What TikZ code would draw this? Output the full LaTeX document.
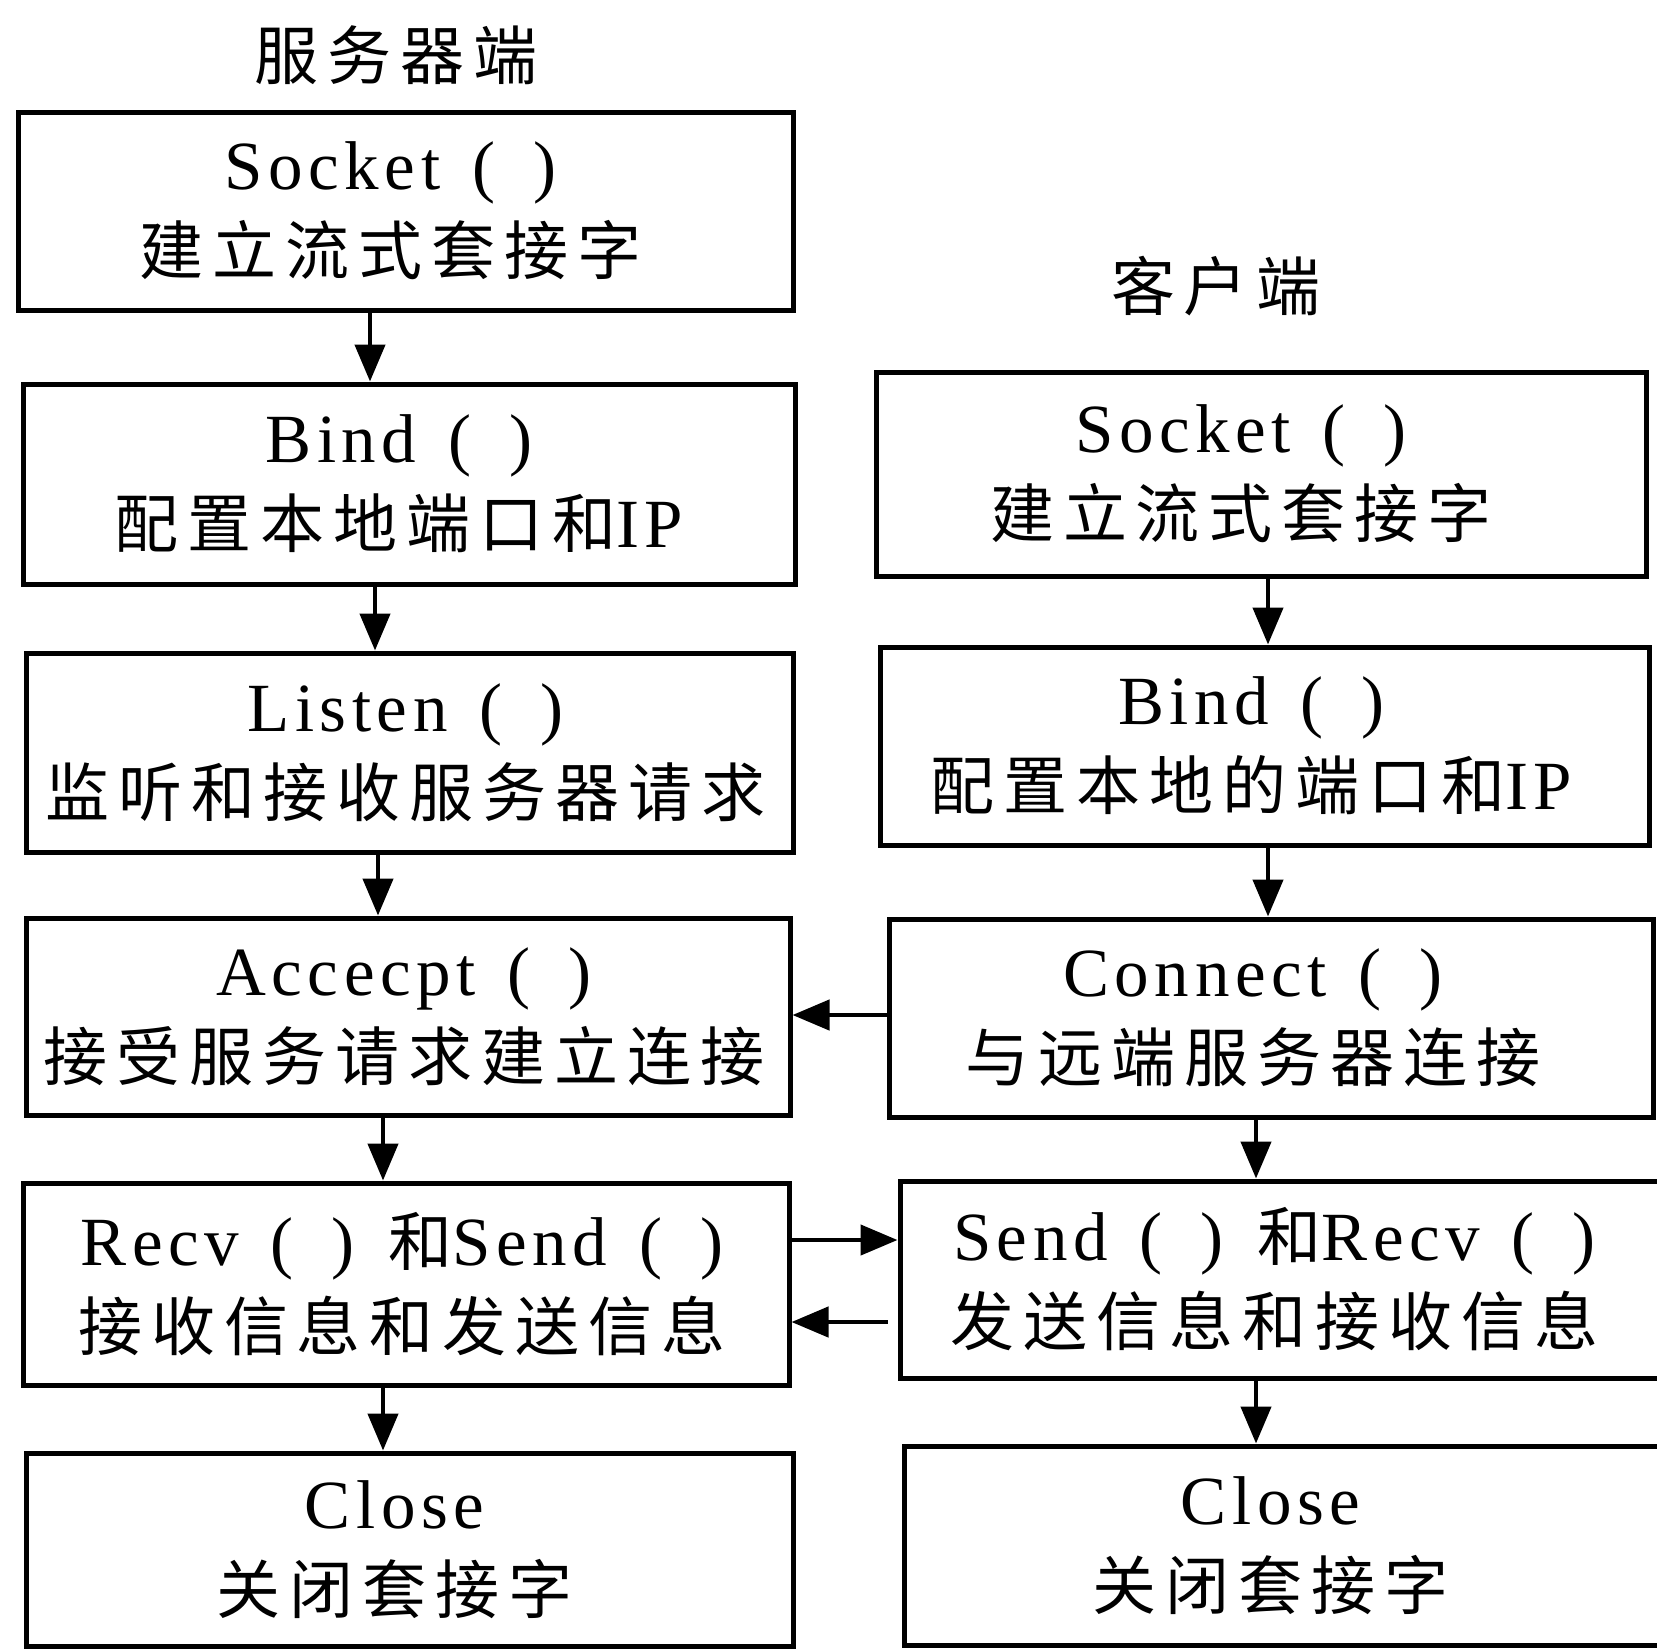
\documentclass[tikz,border=0pt]{standalone}
\usepackage{fontspec}
\setmainfont{Liberation Serif}[LetterSpace=8]
\newfontfamily\cjk{Noto Sans CJK SC}[LetterSpace=14]
\usetikzlibrary{arrows.meta}
\newcommand\pp{\hspace{32pt}(\hspace{38pt})}
\newcommand\zh[1]{{\cjk\fontsize{64}{85}\selectfont #1}}
\tikzset{
  box/.style={draw, line width=5pt, inner sep=0pt},
  txt/.style={inner sep=0pt, align=center, font=\fontsize{69}{85}\selectfont},
  arr/.style={line width=4.5pt, -{Triangle[length=37pt,width=30pt]}},
  ttl/.style={inner sep=0pt, font=\fontsize{64}{70}\selectfont\cjk},
}
\begin{document}
\begin{tikzpicture}[x=1pt,y=-1pt]
\useasboundingbox (0,0) rectangle (1657,1650);
% titles
\node[ttl] (t1) at (396,55) {服务器端};
\node[ttl] (t2) at (1216,286) {客户端};
% server boxes
\node[box, minimum width=775pt, minimum height=198pt] (l1) at (405.5,211) {};
\node[box, minimum width=772pt, minimum height=200pt] (l2) at (409,484) {};
\node[box, minimum width=767pt, minimum height=199pt] (l3) at (409.5,752.5) {};
\node[box, minimum width=764pt, minimum height=197pt] (l4) at (408,1016.5) {};
\node[box, minimum width=766pt, minimum height=202pt] (l5) at (406,1284) {};
\node[box, minimum width=767pt, minimum height=193pt] (l6) at (409.5,1549.5) {};
\node[txt] (l1t) at ([xshift=-15pt]l1.center) {Socket\pp\\\zh{建立流式套接字}};
\node[txt] (l2t) at ([xshift=-10pt]l2.center) {Bind\pp\\\zh{配置本地端口和}IP};
\node[txt] (l3t) at ([xshift=-4pt]l3.center) {Listen\pp\\\zh{监听和接收服务器请求}};
\node[txt] (l4t) at ([xshift=-4pt]l4.center) {Accecpt\pp\\\zh{接受服务请求建立连接}};
\node[txt] (l5t) at ([xshift=-4pt]l5.center) {Recv\pp\hspace{34pt}\zh{和}Send\pp\\\zh{接收信息和发送信息}};
\node[txt] (l6t) at ([xshift=-15pt]l6.center) {Close\\\zh{关闭套接字}};
% client boxes
\node[box, minimum width=770pt, minimum height=204pt] (r1) at (1261,474) {};
\node[box, minimum width=769pt, minimum height=198pt] (r2) at (1264.5,746) {};
\node[box, minimum width=764pt, minimum height=198pt] (r3) at (1271,1018) {};
\node[box, minimum width=765pt, minimum height=197pt] (r4) at (1282.5,1279.5) {};
\node[box, minimum width=761pt, minimum height=199pt] (r5) at (1284.5,1545.5) {};
\node[txt] (r1t) at ([xshift=-20pt]r1.center) {Socket\pp\\\zh{建立流式套接字}};
\node[txt] (r2t) at ([xshift=-13pt]r2.center) {Bind\pp\\\zh{配置本地的端口和}IP};
\node[txt] (r3t) at ([xshift=-18pt]r3.center) {Connect\pp\\\zh{与远端服务器连接}};
\node[txt] (r4t) at ([xshift=-8pt]r4.center) {Send\pp\hspace{34pt}\zh{和}Recv\pp\\\zh{发送信息和接收信息}};
\node[txt] (r5t) at ([xshift=-14pt]r5.center) {Close\\\zh{关闭套接字}};
% helper coordinates
\coordinate (xa) at (370,0);
\coordinate (xb) at (375,0);
\coordinate (xc) at (378,0);
\coordinate (xd) at (383,0);
\coordinate (xe) at (1268,0);
\coordinate (xf) at (1256,0);
\coordinate (ya) at (0,1015);
\coordinate (yb) at (0,1240);
\coordinate (yc) at (0,1322);
% vertical arrows
\draw[arr] (l1.south -| xa) -- (l2.north -| xa);
\draw[arr] (l2.south -| xb) -- (l3.north -| xb);
\draw[arr] (l3.south -| xc) -- (l4.north -| xc);
\draw[arr] (l4.south -| xd) -- (l5.north -| xd);
\draw[arr] (l5.south -| xd) -- (l6.north -| xd);
\draw[arr] (r1.south -| xe) -- (r2.north -| xe);
\draw[arr] (r2.south -| xe) -- (r3.north -| xe);
\draw[arr] (r3.south -| xf) -- (r4.north -| xf);
\draw[arr] (r4.south -| xf) -- (r5.north -| xf);
% horizontal arrows
\draw[arr] (r3.west |- ya) -- (l4.east |- ya);
\draw[arr] (l5.east |- yb) -- (r4.west |- yb);
\draw[arr] ([xshift=-10pt]r4.west |- yc) -- (l5.east |- yc);
\end{tikzpicture}
\end{document}
